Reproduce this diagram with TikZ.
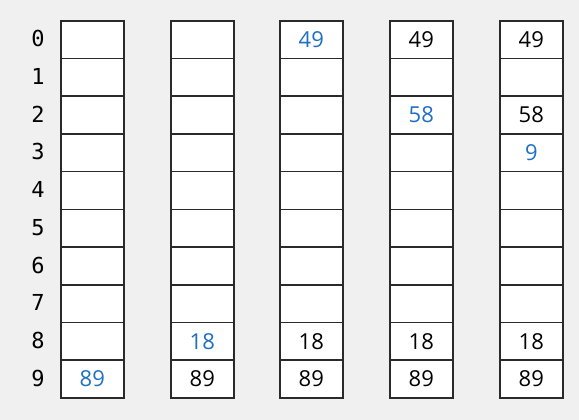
\documentclass[tikz,border=0pt]{standalone}
\usepackage{fontspec}
\usetikzlibrary{backgrounds}
\setmainfont{Open Sans}
\newfontfamily\monofont{DejaVu Sans Mono}
\definecolor{bg}{HTML}{F0F0F0}
\definecolor{edge}{HTML}{2A2A2A}
\definecolor{blu}{HTML}{1F6FC2}
\begin{document}
\begin{tikzpicture}[x=1pt,y=-1pt,
  cellbox/.style={draw=edge,line width=1.6pt,minimum width=63pt,minimum height=37.7pt,inner sep=0pt,anchor=north west},
  rowlbl/.style={font=\monofont\fontsize{22}{22}\selectfont,inner sep=0pt},
  val/.style={font=\fontsize{22}{22}\selectfont,inner sep=0pt,text=black},
  newval/.style={val,text=blu}]
\useasboundingbox (0,0) rectangle (579,420);
\foreach \r in {0,...,9}{
  \node[rowlbl] (lbl\r) at (38,{20+37.7*\r+18.85}) {\r};
}
\foreach \c/\x in {1/60,2/170,3/279,4/389,5/499}{
  \foreach \r in {0,...,9}{
    \node[cellbox] (c\c r\r) at (\x,{20+37.7*\r}) {};
  }
}
\begin{pgfonlayer}{background}
\fill[bg] (0,0) rectangle (579,420);
\foreach \c in {1,...,5}{
  \fill[white] (c\c r0.north west) rectangle (c\c r9.south east);
}
\end{pgfonlayer}
% column 1
\node[newval] (v1a) at (c1r9.center) {89};
% column 2
\node[newval] (v2a) at (c2r8.center) {18};
\node[val] (v2b) at (c2r9.center) {89};
% column 3
\node[newval] (v3a) at (c3r0.center) {49};
\node[val] (v3b) at (c3r8.center) {18};
\node[val] (v3c) at (c3r9.center) {89};
% column 4
\node[val] (v4a) at (c4r0.center) {49};
\node[newval] (v4b) at (c4r2.center) {58};
\node[val] (v4c) at (c4r8.center) {18};
\node[val] (v4d) at (c4r9.center) {89};
% column 5
\node[val] (v5a) at (c5r0.center) {49};
\node[val] (v5b) at (c5r2.center) {58};
\node[newval] (v5c) at (c5r3.center) {9};
\node[val] (v5d) at (c5r8.center) {18};
\node[val] (v5e) at (c5r9.center) {89};
\end{tikzpicture}
\end{document}
